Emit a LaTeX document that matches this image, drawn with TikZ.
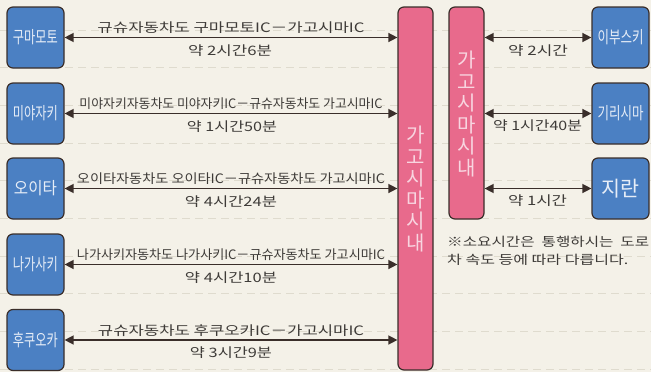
\documentclass[tikz,border=0pt]{standalone}
\usepackage{fontspec}
\usepackage{graphicx}
\usetikzlibrary{arrows.meta}
\newfontfamily\kr{Noto Sans CJK KR}
\definecolor{bg}{HTML}{F4F1E8}
\definecolor{dashc}{HTML}{DFDBCE}
\definecolor{bluebox}{HTML}{4B80C3}
\definecolor{pinkbar}{HTML}{E86A8C}
\definecolor{edge}{HTML}{3A2E2A}
\definecolor{txt}{HTML}{3E3B38}
\definecolor{boxtxt}{HTML}{E6EDF7}
\definecolor{pinktxt}{HTML}{F8D5E0}
\newcommand\fw[2]{\resizebox{#1}{\height}{#2}}
\begin{document}
\begin{tikzpicture}[x=1pt,y=-1pt,
 city/.style={draw=edge, line width=1.2pt, fill=bluebox, rounded corners=6pt,
   minimum width=57pt, minimum height=61pt, inner sep=0pt, text=boxtxt,
   font=\kr\fontsize{17}{17}\selectfont},
 barbox/.style={draw=edge, line width=1.2pt, fill=pinkbar, rounded corners=6pt,
   minimum width=35pt, inner sep=0pt},
 bartxt/.style={text=pinktxt, align=center, inner sep=0pt,
   font=\kr\fontsize{20}{21.6}\selectfont},
 link/.style={{Triangle[length=9pt,width=9pt]}-{Triangle[length=9pt,width=9pt]},
   draw=edge, line width=1.4pt},
 route/.style={text=txt, inner sep=0pt, font=\kr\fontsize{13}{13}\selectfont},
 note/.style={text=txt, inner sep=0pt, anchor=west, font=\kr\fontsize{12.5}{12.5}\selectfont},
 bgline/.style={draw=dashc, line width=1pt, dash pattern=on 8pt off 5pt}
]
\useasboundingbox (0,0) rectangle (651,372);
\fill[bg] (0,0) rectangle (651,372);
\foreach \k in {0,...,9}{
  \draw[bgline] (0,{30+37.7*\k}) -- (651,{30+37.7*\k});
}
% pink bars
\node[barbox, minimum height=363pt] (bar) at (415.5,188.5) {};
\node[barbox, minimum height=212pt] (sbar) at (466.5,113) {};
\node[bartxt] (bartext) at (415.5,189) {가\\고\\시\\마\\시\\내};
\node[bartxt] (sbartext) at (466.5,114) {가\\고\\시\\마\\시\\내};
% left cities
\node[city] (kuma) at (35.5,37.5) {\fw{45pt}{구마모토}};
\node[city] (miya) at (35.5,113.5) {\fw{45pt}{미야자키}};
\node[city] (oita) at (35.5,188.5) {\fw{43pt}{오이타}};
\node[city] (naga) at (35.5,264.5) {\fw{45pt}{나가사키}};
\node[city] (fuku) at (35.5,340) {\fw{45pt}{후쿠오카}};
% right cities
\node[city] (ibus) at (620.5,37.5) {\fw{46pt}{이부스키}};
\node[city] (kiri) at (620.5,113.5) {\fw{46pt}{기리시마}};
\node[city, font=\kr\fontsize{21}{21}\selectfont] (chir) at (620.5,188.5) {\fw{38pt}{지란}};
% left connectors
\foreach \c in {kuma,miya,oita,naga,fuku}{
  \draw[link] (\c.east) -- (bar.west |- \c.east);
}
% right connectors
\foreach \c in {ibus,kiri,chir}{
  \draw[link] (sbar.east |- \c.west) -- (\c.west);
}
% route labels
\node[route] (r1) at (231,28) {\fw{267pt}{규슈자동차도 구마모토IC－가고시마IC}};
\node[route] (t1) at (230,50.5) {\fw{84pt}{약 2시간6분}};
\node[route] (r2) at (231,104) {\fw{303pt}{미야자키자동차도 미야자키IC－규슈자동차도 가고시마IC}};
\node[route] (t2) at (232,126.5) {\fw{90pt}{약 1시간50분}};
\node[route] (r3) at (231,179) {\fw{308pt}{오이타자동차도 오이타IC－규슈자동차도 가고시마IC}};
\node[route] (t3) at (231,201.5) {\fw{92pt}{약 4시간24분}};
\node[route] (r4) at (231,255) {\fw{308pt}{나가사키자동차도 나가사키IC－규슈자동차도 가고시마IC}};
\node[route] (t4) at (231,277.5) {\fw{92pt}{약 4시간10분}};
\node[route] (r5) at (231,330.5) {\fw{266pt}{규슈자동차도 후쿠오카IC－가고시마IC}};
\node[route] (t5) at (231,353) {\fw{82pt}{약 3시간9분}};
% right time labels
\node[route] (s1) at (538,51) {\fw{60pt}{약 2시간}};
\node[route] (s2) at (537.5,126) {\fw{89pt}{약 1시간40분}};
\node[route] (s3) at (537.5,201) {\fw{59pt}{약 1시간}};
% note
\node[note] (n1) at (447,242) {\fw{202pt}{※소요시간은\ \ 통행하시는\ \ 도로}};
\node[note] (n2) at (447,260) {\fw{181pt}{차 속도 등에 따라 다릅니다.}};
\end{tikzpicture}
\end{document}
